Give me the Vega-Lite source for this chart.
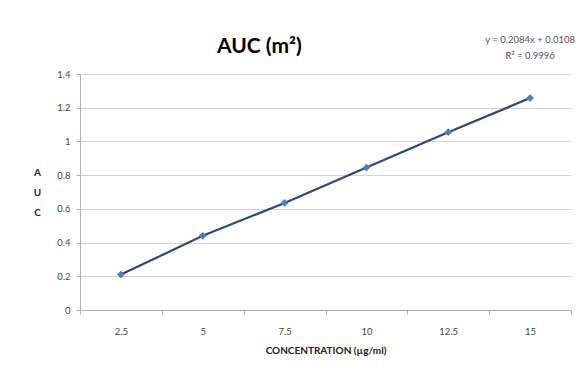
{
  "$schema": "https://vega.github.io/schema/vega-lite/v6.json",
  "width": 491,
  "height": 236,
  "autosize": {"type": "none"},
  "padding": {"left": 80, "top": 74, "right": 12, "bottom": 67},
  "background": "white",
  "config": {
    "font": "Lato",
    "view": {"stroke": null}
  },
  "title": {
    "text": "AUC (m²)",
    "font": "Lato",
    "fontSize": 21,
    "fontWeight": "bold",
    "color": "#000000",
    "anchor": "start",
    "frame": "group",
    "dx": 137,
    "dy": 36,
    "offset": 14
  },
  "data": {
    "values": [
      {"conc": "2.5", "auc": 0.21},
      {"conc": "5", "auc": 0.44},
      {"conc": "7.5", "auc": 0.635},
      {"conc": "10", "auc": 0.845},
      {"conc": "12.5", "auc": 1.055},
      {"conc": "15", "auc": 1.257}
    ]
  },
  "encoding": {
    "x": {
      "field": "conc",
      "type": "ordinal",
      "sort": null,
      "scale": {"paddingInner": 0, "paddingOuter": 0},
      "axis": {
        "title": "CONCENTRATION (µg/ml)",
        "titleFont": "Lato",
        "titleFontSize": 10,
        "titleFontWeight": "bold",
        "titleColor": "#222222",
        "titlePadding": 10,
        "labelAngle": 0,
        "labelFont": "Lato",
        "labelFontSize": 9.5,
        "labelColor": "#444444",
        "labelPadding": 12,
        "tickBand": "extent",
        "tickSize": 4,
        "tickColor": "#b0b0b0",
        "domainColor": "#b0b0b0",
        "grid": false
      }
    },
    "y": {
      "field": "auc",
      "type": "quantitative",
      "scale": {"domain": [0, 1.4], "nice": false},
      "axis": {
        "title": ["A", "U", "C"],
        "titleAngle": 0,
        "titleFont": "Lato",
        "titleFontSize": 10,
        "titleFontWeight": "bold",
        "titleColor": "#222222",
        "titleLineHeight": 20,
        "titleAlign": "center",
        "titleBaseline": "middle",
        "titleX": -43,
        "titleY": 98,
        "values": [0, 0.2, 0.4, 0.6, 0.8, 1, 1.2, 1.4],
        "format": "~g",
        "labelFont": "Lato",
        "labelFontSize": 9.5,
        "labelColor": "#444444",
        "labelPadding": 6,
        "tickSize": 4,
        "tickColor": "#b0b0b0",
        "domainColor": "#b0b0b0",
        "grid": true,
        "gridColor": "#d4d4d4"
      }
    }
  },
  "layer": [
    {
      "mark": {"type": "line", "color": "#2b4a78", "strokeWidth": 2.2}
    },
    {
      "mark": {"type": "point", "shape": "diamond", "filled": true, "color": "#4a7ebb", "size": 60, "opacity": 1}
    },
    {
      "data": {"values": [{"conc": "15", "auc": 1.6}]},
      "mark": {
        "type": "text",
        "text": ["y = 0.2084x + 0.0108", "R² = 0.9996"],
        "font": "Lato",
        "fontSize": 9.5,
        "color": "#555555",
        "align": "center",
        "baseline": "middle",
        "lineHeight": 16,
        "dx": 0
      }
    }
  ]
}
